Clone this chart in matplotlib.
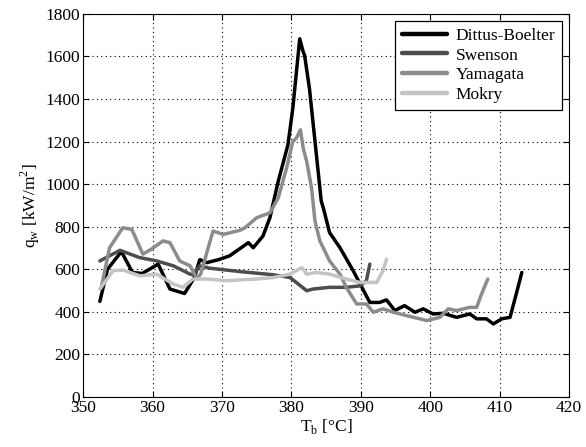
import matplotlib
matplotlib.use("Agg")
import matplotlib.pyplot as plt

plt.rcParams['font.family'] = ['Liberation Serif', 'DejaVu Serif']
plt.rcParams['mathtext.fontset'] = 'custom'
plt.rcParams['mathtext.rm'] = 'Liberation Serif'

# Dittus-Boelter
db_T = [352.4, 353.5, 355.5, 357.1, 358.5, 360.8, 362.5, 364.6, 366.0, 366.8, 367.8, 369.5,
        371.1, 373.8, 374.5, 375.9, 376.9, 378.1, 379.5, 380.2, 381.2, 381.7, 381.9, 382.6,
        383.6, 384.3, 384.6, 385.5, 387.0, 388.9, 391.3, 392.7, 393.7, 394.9, 396.3, 397.8,
        399.0, 400.4, 401.9, 403.8, 405.7, 406.7, 408.1, 409.1, 410.3, 411.5, 412.4, 413.2]
db_q = [449, 600, 683, 585, 580, 624, 507, 486, 560, 645, 631, 645,
        663, 725, 701, 756, 842, 1013, 1185, 1356, 1683, 1621, 1605, 1449,
        1138, 920, 888, 772, 701, 593, 444, 444, 456, 406, 429, 398,
        414, 390, 393, 374, 390, 367, 367, 343, 367, 374, 484, 585]

# Swenson
sw_T = [352.4, 355.3, 358.1, 360.6, 363.0, 365.4, 365.8, 366.8, 368.2, 372.6, 377.4,
        379.8, 380.7, 382.2, 383.1, 385.5, 387.9, 389.9, 390.8, 391.3]
sw_q = [639, 689, 655, 639, 616, 577, 574, 616, 605, 589, 574,
        561, 538, 499, 507, 515, 515, 522, 546, 624]

# Yamagata
ya_T = [352.6, 353.8, 355.7, 357.0, 358.6, 359.8, 361.5, 362.5, 363.9, 365.4, 366.3,
        366.9, 368.7, 370.2, 372.6, 373.3, 375.0, 376.9, 378.1, 379.3, 380.2, 380.7,
        381.3, 381.7, 382.2, 382.9, 383.4, 384.1, 385.5, 387.0, 387.9, 389.4, 390.8,
        391.8, 393.2, 394.7, 396.6, 399.5, 401.4, 402.6, 403.8, 405.7, 406.7, 407.4, 408.3]
ya_q = [514, 701, 795, 787, 671, 694, 733, 725, 639, 616, 561,
        575, 779, 764, 783, 795, 842, 865, 935, 1075, 1200, 1215,
        1255, 1169, 1107, 982, 826, 733, 639, 577, 515, 437, 437,
        398, 414, 398, 382, 359, 374, 414, 406, 421, 421, 484, 554]

# Mokry
mo_T = [352.4, 354.3, 355.7, 358.2, 360.6, 363.0, 364.4, 365.8, 367.8, 370.6, 372.6,
        375.0, 377.4, 379.8, 381.5, 382.2, 383.6, 385.5, 387.9, 389.9, 392.3, 393.2, 393.7]
mo_q = [507, 593, 596, 569, 577, 530, 515, 554, 554, 546, 550,
        554, 561, 577, 608, 577, 585, 577, 554, 538, 538, 593, 647]

series = [
    ("Dittus-Boelter", db_T, db_q, "#000000"),
    ("Swenson", sw_T, sw_q, "#4d4d4d"),
    ("Yamagata", ya_T, ya_q, "#8c8c8c"),
    ("Mokry", mo_T, mo_q, "#c4c4c4"),
]

fig = plt.figure(figsize=(5.86, 4.47), dpi=100)
ax = fig.add_axes([0.142, 0.112, 0.829, 0.857])

for name, T, q, c in series:
    ax.plot(T, q, color=c, lw=2.5, label=name, solid_joinstyle='round',
            solid_capstyle='round')

ax.set_xlim(350, 420)
ax.set_ylim(0, 1800)
ax.set_xticks(range(350, 421, 10))
ax.set_yticks(range(0, 1801, 200))
ax.grid(True, color='black', linestyle=(0, (1, 3)), linewidth=0.8)
ax.tick_params(direction='in', top=True, right=True, labelsize=12.5, length=4, width=0.8,
               pad=2)
for s in ax.spines.values():
    s.set_linewidth(0.8)

ax.set_xlabel(r'T$_\mathrm{b}$ [°C]', fontsize=12.5, labelpad=1)
ax.set_ylabel(r'q$_\mathrm{w}$ [kW/m$^2$]', fontsize=12.5, labelpad=3)

leg = ax.legend(loc='upper right', fontsize=12.5, fancybox=False, framealpha=1,
                edgecolor='black', handlelength=2.6, borderpad=0.4, labelspacing=0.2,
                handletextpad=0.5, borderaxespad=0.4)
leg.get_frame().set_linewidth(0.9)
for h in leg.get_lines():
    h.set_linewidth(3.2)

fig.savefig("out.png", dpi=100)
